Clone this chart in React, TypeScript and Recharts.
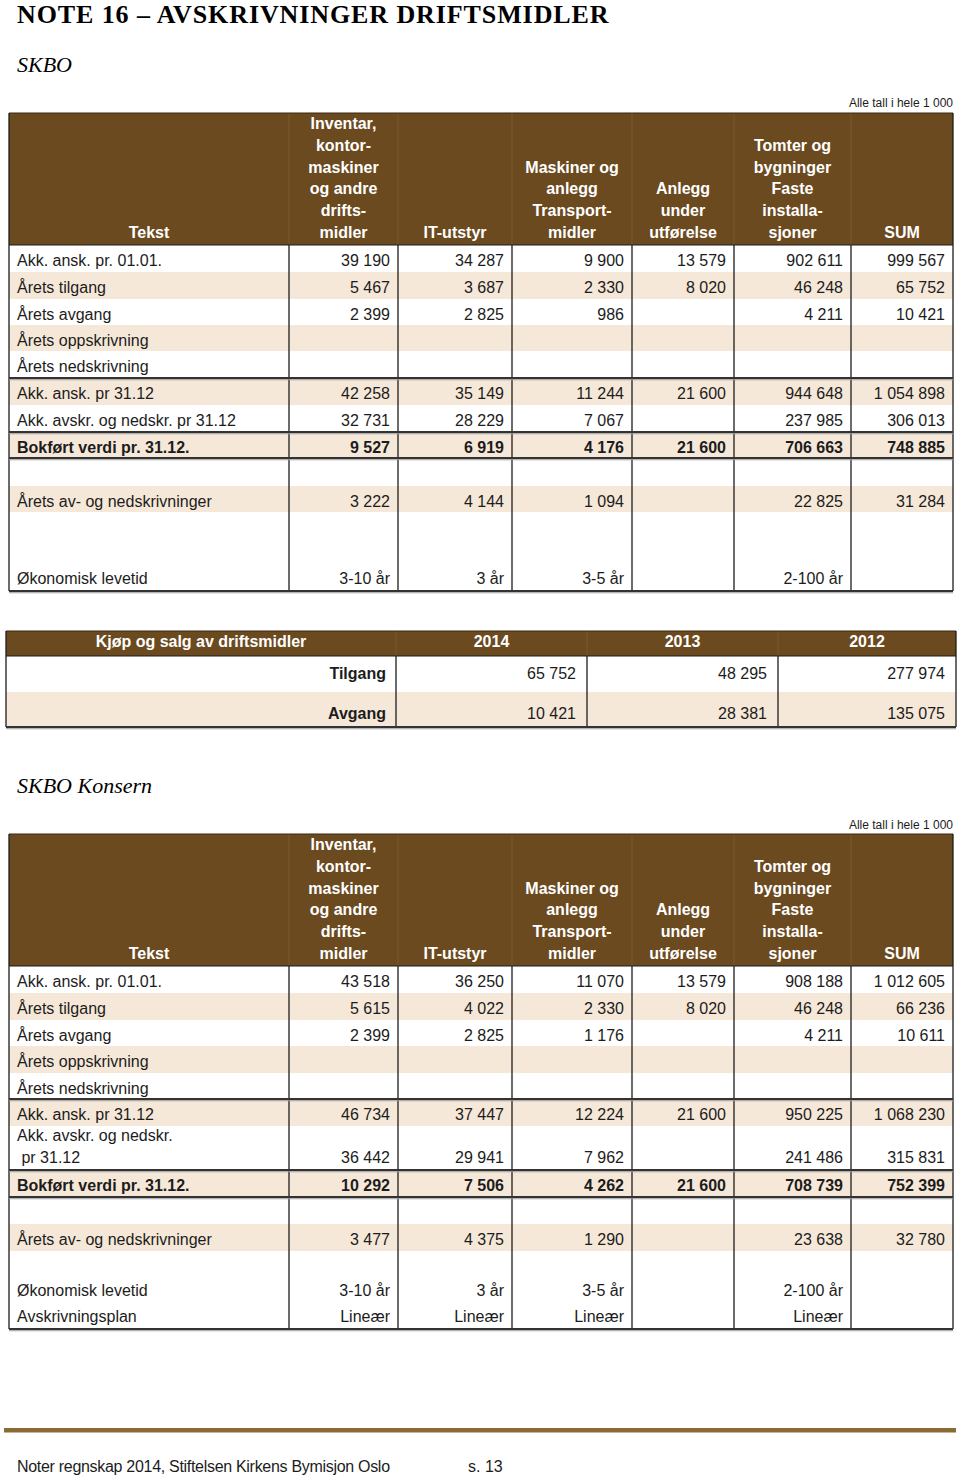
import React from 'react'
import { Surface, Layer, Rectangle, Text } from 'recharts'

// header of the asset tables, one list of lines per column
const headTekst = ['Tekst']
const headAssets = [
  ['Inventar,', 'kontor-', 'maskiner', 'og andre', 'drifts-', 'midler'],
  ['IT-utstyr'],
  ['Maskiner og', 'anlegg', 'Transport-', 'midler'],
  ['Anlegg', 'under', 'utførelse'],
  ['Tomter og', 'bygninger', 'Faste', 'installa-', 'sjoner'],
  ['SUM'],
]

// SKBO
const skboAnskInngang = [39190, 34287, 9900, 13579, 902611, 999567]
const skboTilgang = [5467, 3687, 2330, 8020, 46248, 65752]
const skboAvgang = [2399, 2825, 986, null, 4211, 10421]
const skboOppskr = [null, null, null, null, null, null]
const skboNedskr = [null, null, null, null, null, null]
const skboAnskUtgang = [42258, 35149, 11244, 21600, 944648, 1054898]
const skboAvskrAkk = [32731, 28229, 7067, null, 237985, 306013]
const skboBokfort = [9527, 6919, 4176, 21600, 706663, 748885]
const skboAvskrAar = [3222, 4144, 1094, null, 22825, 31284]

// SKBO Konsern
const konsAnskInngang = [43518, 36250, 11070, 13579, 908188, 1012605]
const konsTilgang = [5615, 4022, 2330, 8020, 46248, 66236]
const konsAvgang = [2399, 2825, 1176, null, 4211, 10611]
const konsOppskr = [null, null, null, null, null, null]
const konsNedskr = [null, null, null, null, null, null]
const konsAnskUtgang = [46734, 37447, 12224, 21600, 950225, 1068230]
const konsAvskrAkk = [36442, 29941, 7962, null, 241486, 315831]
const konsBokfort = [10292, 7506, 4262, 21600, 708739, 752399]
const konsAvskrAar = [3477, 4375, 1290, null, 23638, 32780]

const levetid = ['3-10 år', '3 år', '3-5 år', '', '2-100 år', '']
const avskrPlan = ['Lineær', 'Lineær', 'Lineær', '', 'Lineær', '']

// Kjøp og salg
const years = ['2014', '2013', '2012']
const kjopTilgang = [65752, 48295, 277974]
const kjopAvgang = [10421, 28381, 135075]

const BROWN = '#6b4a1f'
const BEIGE = '#f6e8d8'
const INK = '#1c1c1c'
const SANS = 'Liberation Sans, Arial, sans-serif'
const SERIF = 'Liberation Serif, Times New Roman, serif'
const COLS = [9, 289, 398, 512, 632, 734, 851, 953]

const nok = (n: number | null) =>
  n == null ? '' : String(n).replace(/\B(?=(\d{3})+(?!\d))/g, ' ')
const cells = (a: (number | null)[]) => a.map(nok)

type Row = {
  label: string[]
  cells: string[]
  h: number
  fill?: boolean
  bold?: boolean
  rule?: boolean
  base?: number
}

const blank = (h: number, fill = false): Row => ({ label: [], cells: [], h, fill })

const skboRows: Row[] = [
  { label: ['Akk. ansk. pr. 01.01.'], cells: cells(skboAnskInngang), h: 27 },
  { label: ['Årets tilgang'], cells: cells(skboTilgang), h: 27, fill: true },
  { label: ['Årets avgang'], cells: cells(skboAvgang), h: 26 },
  { label: ['Årets oppskrivning'], cells: cells(skboOppskr), h: 26, fill: true },
  { label: ['Årets nedskrivning'], cells: cells(skboNedskr), h: 27, rule: true },
  { label: ['Akk. ansk. pr 31.12'], cells: cells(skboAnskUtgang), h: 27, fill: true },
  { label: ['Akk. avskr. og nedskr. pr 31.12'], cells: cells(skboAvskrAkk), h: 27, rule: true },
  { label: ['Bokført verdi pr. 31.12.'], cells: cells(skboBokfort), h: 26, fill: true, bold: true, rule: true },
  blank(28),
  { label: ['Årets av- og nedskrivninger'], cells: cells(skboAvskrAar), h: 26, fill: true },
  blank(51),
  { label: ['Økonomisk levetid'], cells: levetid, h: 28, base: 20.5 },
]

const konsRows: Row[] = [
  { label: ['Akk. ansk. pr. 01.01.'], cells: cells(konsAnskInngang), h: 27 },
  { label: ['Årets tilgang'], cells: cells(konsTilgang), h: 27, fill: true },
  { label: ['Årets avgang'], cells: cells(konsAvgang), h: 26 },
  { label: ['Årets oppskrivning'], cells: cells(konsOppskr), h: 27, fill: true },
  { label: ['Årets nedskrivning'], cells: cells(konsNedskr), h: 26, rule: true },
  { label: ['Akk. ansk. pr 31.12'], cells: cells(konsAnskUtgang), h: 27, fill: true },
  { label: ['Akk. avskr. og nedskr.', '\u00a0pr 31.12'], cells: cells(konsAvskrAkk), h: 44, rule: true, base: 37 },
  { label: ['Bokført verdi pr. 31.12.'], cells: cells(konsBokfort), h: 27, fill: true, bold: true, rule: true },
  blank(27),
  { label: ['Årets av- og nedskrivninger'], cells: cells(konsAvskrAar), h: 27, fill: true },
  blank(24),
  { label: ['Økonomisk levetid'], cells: levetid, h: 28, base: 21 },
  { label: ['Avskrivningsplan'], cells: avskrPlan, h: 26, base: 19 },
]

function HLine({ x1, x2, y, w = 1, color = INK }: { x1: number; x2: number; y: number; w?: number; color?: string }) {
  return <Rectangle x={x1} y={y - w / 2} width={x2 - x1} height={w} fill={color} />
}
function VLine({ x, y1, y2, w = 1.3, color = INK }: { x: number; y1: number; y2: number; w?: number; color?: string }) {
  return <Rectangle x={x - w / 2} y={y1} width={w} height={y2 - y1} fill={color} />
}

function AssetTable({ top, rows }: { top: number; rows: Row[] }) {
  const headH = 132
  const bodyTop = top + headH
  const left = COLS[0]
  const right = COLS[COLS.length - 1]
  let y = bodyTop
  const placed = rows.map((r) => {
    const t = y
    y += r.h
    return { ...r, top: t }
  })
  const bottom = y
  const heads = [headTekst, ...headAssets]
  return (
    <Layer>
      <Rectangle x={left} y={top} width={right - left} height={headH} fill={BROWN} />
      {COLS.slice(1, -1).map((x) => (
        <VLine key={'hs' + x} x={x} y1={top} y2={bodyTop} w={1} color="#7b5a2d" />
      ))}
      {heads.map((lines, i) => {
        const cx = (COLS[i] + COLS[i + 1]) / 2
        return lines.map((ln, j) => (
          <Text
            key={i + '-' + j}
            x={cx}
            y={top + 125 - (lines.length - 1 - j) * 21.8}
            textAnchor="middle"
            fontFamily={SANS}
            fontSize={16}
            fontWeight="bold"
            fill="#ffffff"
          >
            {ln}
          </Text>
        ))
      })}
      {placed.map((r, i) =>
        r.fill ? <Rectangle key={'f' + i} x={left} y={r.top} width={right - left} height={r.h} fill={BEIGE} /> : null
      )}
      {placed.map((r, i) => {
        const base = r.top + (r.base ?? 20.5)
        const labelTop = r.label.length > 1 ? r.top + 15 : base
        return (
          <Layer key={'r' + i}>
            {r.label.map((ln, j) => (
              <Text
                key={j}
                x={17}
                y={labelTop + j * 22}
                fontFamily={SANS}
                fontSize={16}
                fontWeight={r.bold ? 'bold' : 'normal'}
                fill={INK}
              >
                {ln}
              </Text>
            ))}
            {r.cells.map((c, k) =>
              c ? (
                <Text
                  key={'c' + k}
                  x={COLS[k + 2] - 8}
                  y={base}
                  textAnchor="end"
                  fontFamily={SANS}
                  fontSize={16}
                  fontWeight={r.bold ? 'bold' : 'normal'}
                  fill={INK}
                >
                  {c}
                </Text>
              ) : null
            )}
          </Layer>
        )
      })}
      <HLine x1={left} x2={right} y={top} w={1.2} color="#3a2a12" />
      <HLine x1={left} x2={right} y={bodyTop} w={1} />
      {COLS.map((x) => (
        <VLine key={'v' + x} x={x} y1={x === left || x === right ? top : bodyTop} y2={bottom} />
      ))}
      {placed.filter((r) => r.rule).map((r, i) => (
        <Layer key={'rule' + i}>
          <HLine x1={left} x2={right} y={r.top + r.h} w={2} color="#333333" />
          <HLine x1={left} x2={right} y={r.top + r.h + 1.8} w={1} color="#9a9a9a" />
        </Layer>
      ))}
      <HLine x1={left} x2={right} y={bottom} w={2} color="#333333" />
      <HLine x1={left} x2={right} y={bottom + 1.8} w={1} color="#9a9a9a" />
    </Layer>
  )
}

function KjopTable() {
  const cols = [6, 396, 587, 778, 956]
  const top = 631
  const headBottom = 656
  const rows = [
    { label: 'Tilgang', vals: kjopTilgang, top: 656, h: 36, base: 679, fill: false },
    { label: 'Avgang', vals: kjopAvgang, top: 692, h: 35, base: 719, fill: true },
  ]
  const bottom = 727
  const heads = ['Kjøp og salg av driftsmidler', ...years]
  return (
    <Layer>
      <Rectangle x={cols[0]} y={top} width={cols[4] - cols[0]} height={headBottom - top} fill={BROWN} />
      {cols.slice(1, -1).map((x) => (
        <VLine key={'hs' + x} x={x} y1={top} y2={headBottom} w={1} color="#7b5a2d" />
      ))}
      {heads.map((h, i) => (
        <Text
          key={h}
          x={(cols[i] + cols[i + 1]) / 2}
          y={647}
          textAnchor="middle"
          fontFamily={SANS}
          fontSize={16}
          fontWeight="bold"
          fill="#ffffff"
        >
          {h}
        </Text>
      ))}
      {rows.map((r) => (
        <Layer key={r.label}>
          {r.fill ? <Rectangle x={cols[0]} y={r.top} width={cols[4] - cols[0]} height={r.h} fill={BEIGE} /> : null}
          <Text x={cols[1] - 10} y={r.base} textAnchor="end" fontFamily={SANS} fontSize={16} fontWeight="bold" fill={INK}>
            {r.label}
          </Text>
          {r.vals.map((v, k) => (
            <Text key={k} x={cols[k + 2] - 11} y={r.base} textAnchor="end" fontFamily={SANS} fontSize={16} fill={INK}>
              {nok(v)}
            </Text>
          ))}
        </Layer>
      ))}
      <HLine x1={cols[0]} x2={cols[4]} y={top} w={1.2} color="#3a2a12" />
      <HLine x1={cols[0]} x2={cols[4]} y={headBottom} w={1} />
      {cols.map((x, i) => (
        <VLine key={'v' + x} x={x} y1={i === 0 || i === 4 ? top : headBottom} y2={bottom} />
      ))}
      <HLine x1={cols[0]} x2={cols[4]} y={bottom} w={2} color="#333333" />
      <HLine x1={cols[0]} x2={cols[4]} y={bottom + 1.8} w={1} color="#9a9a9a" />
    </Layer>
  )
}

export default function App() {
  return (
    <div style={{ position: 'absolute', left: 0, top: 0, width: 960, height: 1478, background: '#fff' }}>
      <Surface width={960} height={1478}>
        <Rectangle x={0} y={0} width={960} height={1478} fill="#ffffff" />
        <Text x={17} y={23} fontFamily={SERIF} fontSize={26} fontWeight="bold" fill="#000" style={{ letterSpacing: '0.9px' }}>
          NOTE 16 – AVSKRIVNINGER DRIFTSMIDLER
        </Text>
        <Text x={17} y={72} fontFamily={SERIF} fontSize={22} fontStyle="italic" fill="#000">
          SKBO
        </Text>
        <Text x={953} y={107} textAnchor="end" fontFamily={SANS} fontSize={12} fill={INK}>
          Alle tall i hele 1 000
        </Text>
        <AssetTable top={113} rows={skboRows} />
        <KjopTable />
        <Text x={17} y={793} fontFamily={SERIF} fontSize={22} fontStyle="italic" fill="#000">
          SKBO Konsern
        </Text>
        <Text x={953} y={829} textAnchor="end" fontFamily={SANS} fontSize={12} fill={INK}>
          Alle tall i hele 1 000
        </Text>
        <AssetTable top={834} rows={konsRows} />
        <Rectangle x={4} y={1428} width={952} height={4.5} fill="#8b6a34" />
        <Text x={17} y={1472} fontFamily={SANS} fontSize={16} fill={INK} style={{ letterSpacing: '-0.3px' }}>
          Noter regnskap 2014, Stiftelsen Kirkens Bymisjon Oslo
        </Text>
        <Text x={468} y={1472} fontFamily={SANS} fontSize={16} fill={INK}>
          s. 13
        </Text>
      </Surface>
    </div>
  )
}
